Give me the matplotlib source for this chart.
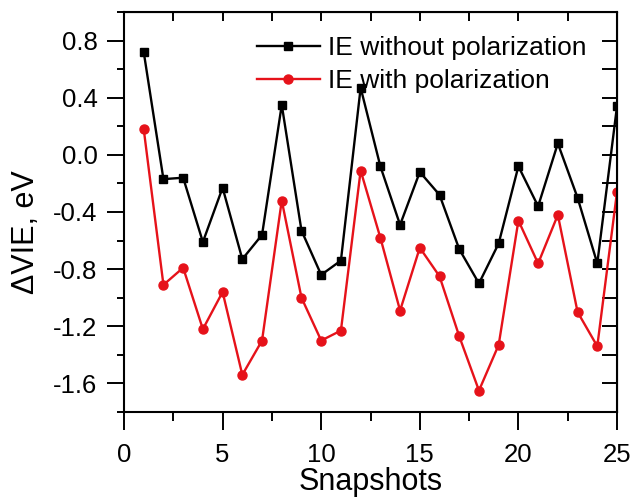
import matplotlib
matplotlib.use("Agg")
import matplotlib.pyplot as plt
from matplotlib.ticker import MultipleLocator, FormatStrFormatter

snapshots = list(range(1, 26))
ie_without = [0.72, -0.17, -0.16, -0.61, -0.23, -0.73, -0.56, 0.35, -0.53, -0.84,
              -0.74, 0.47, -0.08, -0.49, -0.12, -0.28, -0.66, -0.90, -0.62, -0.08,
              -0.36, 0.08, -0.30, -0.76, 0.34]
ie_with = [0.18, -0.91, -0.79, -1.22, -0.96, -1.54, -1.30, -0.32, -1.00, -1.30,
           -1.23, -0.11, -0.58, -1.09, -0.65, -0.85, -1.27, -1.65, -1.33, -0.46,
           -0.76, -0.42, -1.10, -1.34, -0.26]
label_without = "IE without polarization"
label_with = "IE with polarization"

plt.rcParams['font.family'] = ['Liberation Sans', 'DejaVu Sans']

fig = plt.figure(figsize=(6.35, 4.97), dpi=100)
ax = fig.add_axes([124/635, 85/497, 493/635, 400/497])

red = '#e6121a'
ax.plot(snapshots, ie_without, color='black', lw=1.7, marker='s', ms=6.0,
        label=label_without)
ax.plot(snapshots, ie_with, color=red, lw=1.7, marker='o', ms=6.5,
        label=label_with)

ax.set_xlim(0, 25)
ax.set_ylim(-1.8, 1.0)
ax.xaxis.set_major_locator(MultipleLocator(5))
ax.xaxis.set_minor_locator(MultipleLocator(2.5))
ax.yaxis.set_major_locator(MultipleLocator(0.4))
ax.yaxis.set_minor_locator(MultipleLocator(0.2))
ax.yaxis.set_major_formatter(FormatStrFormatter('%.1f'))

ax.tick_params(axis='x', which='major', direction='out', length=13, width=1.4,
               labelsize=18.5, pad=9)
ax.tick_params(axis='x', which='minor', direction='out', length=6.5, width=1.4)
ax.tick_params(axis='y', which='major', direction='out', length=12, width=1.4,
               labelsize=18.5, pad=7)
ax.tick_params(axis='y', which='minor', direction='out', length=5, width=1.4)

for s in ax.spines.values():
    s.set_linewidth(1.5)

top = ax.secondary_xaxis('top')
top.xaxis.set_major_locator(MultipleLocator(2.5))
top.tick_params(direction='in', length=6.5, width=1.4, labeltop=False)
right = ax.secondary_yaxis('right')
right.yaxis.set_major_locator(MultipleLocator(0.2))
right.tick_params(direction='in', length=11, width=1.4, labelright=False)

ax.set_xlabel('Snapshots', fontsize=22)
ax.xaxis.set_label_coords(0.5, -0.138)
ax.set_ylabel('ΔVIE, eV', fontsize=22)
ax.yaxis.set_label_coords(-0.168, 0.45)

ax.legend(loc='upper left', bbox_to_anchor=(0.27, 0.94), frameon=False,
          fontsize=19, handlelength=2.37, handletextpad=0.3,
          labelspacing=0.36, borderpad=0, borderaxespad=0)

fig.savefig('out.png', dpi=100)
